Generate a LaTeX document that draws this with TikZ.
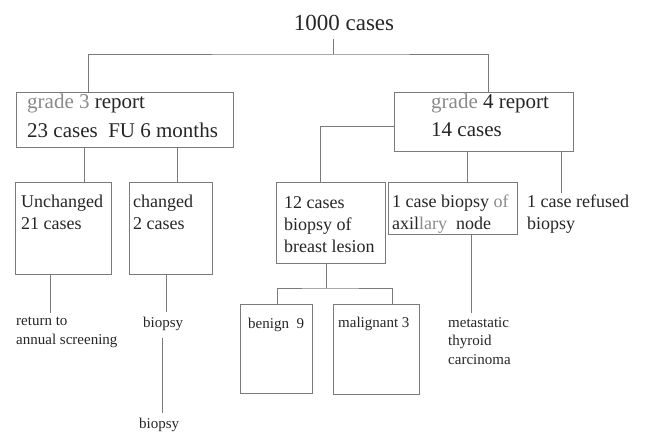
\documentclass[tikz,border=0pt]{standalone}
\usepackage{fontspec}
\setmainfont{Liberation Serif}
\definecolor{ink}{HTML}{262626}
\definecolor{pale}{HTML}{8A8A8A}
\definecolor{edge}{HTML}{7A7A7A}
\begin{document}
\begin{tikzpicture}[x=1pt,y=-1pt,
  box/.style={draw=edge,line width=0.9pt,inner sep=0pt,outer sep=0pt,rectangle},
  wire/.style={draw=edge,line width=0.9pt},
  big/.style={font=\fontsize{23}{27}\selectfont,text=ink,inner sep=0pt},
  mid/.style={font=\fontsize{21}{27}\selectfont,text=ink,inner sep=0pt,anchor=west},
  txt/.style={font=\fontsize{18}{22}\selectfont,text=ink,inner sep=0pt,anchor=north west,align=left},
  sml/.style={font=\fontsize{15}{18.5}\selectfont,text=ink,inner sep=0pt,anchor=north west,align=left}]
\useasboundingbox[fill=white] (0,0) rectangle (645,432);
% root
\node[big] (root) at (344,23) {1000 cases};
\coordinate (rootb) at (333,39);
\coordinate (split) at (333,54);
% boxes
\node[box,minimum width=217pt,minimum height=55pt] (g3) at (124.5,119.5) {};
\node[box,minimum width=179pt,minimum height=59pt] (g4) at (483.5,121.5) {};
\node[box,minimum width=96pt,minimum height=92pt] (un) at (63,228) {};
\node[box,minimum width=83pt,minimum height=92pt] (ch) at (170.5,228) {};
\node[box,minimum width=109pt,minimum height=81pt] (b12) at (330.5,222.5) {};
\node[box,minimum width=129pt,minimum height=52pt] (ax) at (452.5,208) {};
\node[box,minimum width=72pt,minimum height=89pt] (ben) at (276,348.5) {};
\node[box,minimum width=86pt,minimum height=90pt] (mal) at (376,349) {};
% x positions of the connectors
\coordinate (xg3) at (88,0);
\coordinate (xg4) at (488,0);
\coordinate (xun) at (84,0);
\coordinate (xch) at (177,0);
\coordinate (xb12) at (320,0);
\coordinate (xax) at (467,0);
\coordinate (xref) at (561,0);
\coordinate (xunb) at (50,0);
\coordinate (xchb) at (166,0);
\coordinate (xb12b) at (326,0);
\coordinate (xaxb) at (471,0);
\coordinate (xben) at (277,0);
\coordinate (xmal) at (392,0);
\coordinate (g4w) at (394,126);
\coordinate (b12split) at (326,288);
% texts
\node[mid] (t3a) at (27,103) {\textcolor{pale}{grade} \textcolor{pale}{3} report};
\node[mid] (t3b) at (27,130) {23 cases\ \ FU 6 months};
\node[mid] (t4a) at (431,103) {\textcolor{pale}{grade} 4 report};
\node[mid] (t4b) at (431,130) {14 cases};
\node[txt] (tun) at (21,195) {Unchanged\\21 cases};
\node[txt] (tch) at (133,195) {changed\\2 cases};
\node[txt] (t12) at (284,196) {12 cases\\biopsy of\\breast lesion};
\node[txt] (tax) at (392,195) {1 case biopsy \textcolor{pale}{of}\\axil\textcolor{pale}{lary}\ \ node};
\node[txt] (tref) at (527,195) {1 case refused\\biopsy};
\coordinate (refa) at (561,193);
\node[sml] (tret) at (16,317) {return to\\annual screening};
\node[sml] (tbi1) at (143,317) {biopsy};
\coordinate (bi1b) at (162,338);
\node[sml] (tbi2) at (139,418) {biopsy};
\coordinate (bi2t) at (162,413);
\node[sml] (tben) at (248,318) {benign\ \ 9};
\node[sml] (tmal) at (338,317) {malignant 3};
\node[sml] (tmet) at (448,317) {metastatic\\thyroid\\carcinoma};
\coordinate (retT) at (50,313);
\coordinate (bi1T) at (166,312);
\coordinate (metT) at (471,313);
% connectors
\draw[wire] (rootb) -- (split);
\draw[wire] (g3.north -| xg3) |- (split) -| (g4.north -| xg4);
\draw[wire] (g3.south -| xun) -- (un.north -| xun);
\draw[wire] (g3.south -| xch) -- (ch.north -| xch);
\draw[wire] (g4w) -| (b12.north -| xb12);
\draw[wire] (g4.south -| xax) -- (ax.north -| xax);
\draw[wire] (g4.south -| xref) -- (refa);
\draw[wire] (un.south -| xunb) -- (retT);
\draw[wire] (ch.south -| xchb) -- (bi1T);
\draw[wire] (bi1b) -- (bi2t);
\draw[wire] (b12.south -| xb12b) -- (b12split);
\draw[wire] (ben.north -| xben) |- (b12split) -| (mal.north -| xmal);
\draw[wire] (ax.south -| xaxb) -- (metT);
\end{tikzpicture}
\end{document}
